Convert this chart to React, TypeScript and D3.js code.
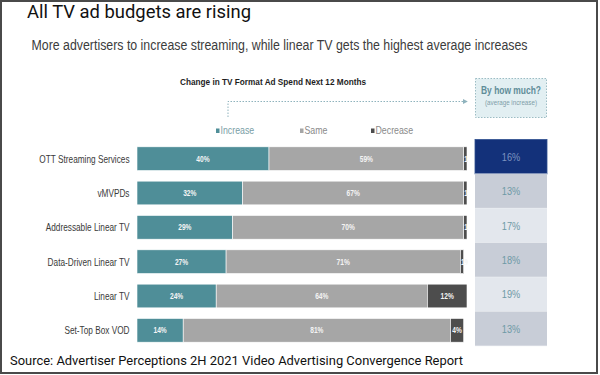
import React from "react";
import * as d3 from "d3";

const categories = [
  "OTT Streaming Services",
  "vMVPDs",
  "Addressable Linear TV",
  "Data-Driven Linear TV",
  "Linear TV",
  "Set-Top Box VOD",
];
const increase = [40, 32, 29, 27, 24, 14];
const same = [59, 67, 70, 71, 64, 81];
const decrease = [1, 1, 1, 1, 12, 4];
const avgIncrease = [16, 13, 17, 18, 19, 13];
const seriesNames = ["Increase", "Same", "Decrease"];

const W = 600;
const H = 375;
const colors = ["#4f8e98", "#a6a6a6", "#4d4d4d"];
const boxFills = ["#13317a", "#c8cdd7", "#e3e7ed", "#c8cdd7", "#e3e7ed", "#c8cdd7"];
const narrow = "'Liberation Sans', Arial, sans-serif";

export default function App() {
  const x = d3.scaleLinear().domain([0, 100]).range([137, 467]);
  const y = d3.scaleBand<string>().domain(categories).range([141.5, 347.5]).paddingInner(0.31).paddingOuter(0.155);
  const yb = d3.scaleBand<string>().domain(categories).range([139.5, 346]).padding(0);

  const rows = categories.map((c, i) => ({ c, vals: [increase[i], same[i], decrease[i]], avg: avgIncrease[i] }));
  const stack = d3.stack<any>().keys(["0", "1", "2"]).value((d: any, k: string) => d.vals[+k]);
  const stacked = stack(rows as any);

  return (
    <svg width={W} height={H} style={{ position: "absolute", left: 0, top: 0, background: "#fff" }}>
      <defs>
        <clipPath id="barclip">
          <rect x={x(0)} y={130} width={x(100) - x(0) + 1} height={230} />
        </clipPath>
        <marker id="arr" viewBox="0 0 6 6" refX="5" refY="3" markerWidth="5" markerHeight="5" orient="auto">
          <path d="M0,0 L6,3 L0,6 Z" fill="#8fb3bd" />
        </marker>
      </defs>
      <rect x={0} y={0} width={W} height={H} fill="#fff" />
      <rect x={1} y={1} width={596} height={372} fill="none" stroke="#4a4a4a" strokeWidth={2} />

      <text x={27} y={17.5} fontFamily="Roboto, sans-serif" fontSize={18.3} fill="#111" textLength={224} lengthAdjust="spacingAndGlyphs">
        All TV ad budgets are rising
      </text>
      <text x={31.5} y={50} fontFamily={narrow} fontSize={14} fill="#3c3c3c" textLength={496} lengthAdjust="spacingAndGlyphs">
        More advertisers to increase streaming, while linear TV gets the highest average increases
      </text>

      <text x={180} y={85} fontFamily={narrow} fontWeight="bold" fontSize={9.5} fill="#1e1e1e" textLength={186} lengthAdjust="spacingAndGlyphs">
        Change in  TV Format Ad Spend Next 12 Months
      </text>

      <path d={`M228,117 L228,101.5 L467,101.5`} fill="none" stroke="#8fb3bd" strokeWidth={1} strokeDasharray="1.5,1.5" markerEnd="url(#arr)" />

      <rect x={475.5} y={78.5} width={71} height={39} fill="#e2eff2" stroke="#9cbcc4" strokeWidth={1} strokeDasharray="1.5,1.5" />
      <text x={511} y={94} textAnchor="middle" fontFamily={narrow} fontWeight="bold" fontSize={10.5} fill="#5f8d99" textLength={60} lengthAdjust="spacingAndGlyphs">
        By how much?
      </text>
      <text x={511} y={104.5} textAnchor="middle" fontFamily={narrow} fontSize={7} fill="#7f9ea8" textLength={52} lengthAdjust="spacingAndGlyphs">
        (average  increase)
      </text>

      {seriesNames.map((s, i) => {
        const lx = [216, 300, 371][i];
        return (
          <g key={s}>
            <rect x={lx} y={128.5} width={3.5} height={4.5} fill={colors[i]} />
            <text transform={`translate(${lx + 4.5},134) scale(0.8,1)`} fontFamily={narrow} fontSize={11} fill={i === 0 ? "#7a9ea6" : "#8a8a8a"}>
              {s}
            </text>
          </g>
        );
      })}

      {categories.map((c) => (
        <text key={c} transform={`translate(129.5,${(y(c) as number) + y.bandwidth() / 2 + 4}) scale(0.75,1)`} textAnchor="end" fontFamily={narrow} fontSize={11} fill="#3a3a3a">
          {c}
        </text>
      ))}

      {stacked.map((layer, li) => (
        <g key={li}>
          {layer.map((seg, ri) => {
            const c = categories[ri];
            const x0 = x(seg[0]);
            const x1 = x(seg[1]);
            return (
              <rect key={c} x={x0} y={y(c)} width={Math.max(0, x1 - x0)} height={y.bandwidth()} fill={colors[li]} stroke="#fff" strokeWidth={0.6} />
            );
          })}
        </g>
      ))}

      <g clipPath="url(#barclip)">
        {stacked.map((layer, li) =>
          layer.map((seg, ri) => {
            const c = categories[ri];
            const v = rows[ri].vals[li];
            const x0 = x(seg[0]);
            const x1 = x(seg[1]);
            const cx = v <= 2 ? x0 + 0.5 : (x0 + x1) / 2;
            const cy = (y(c) as number) + y.bandwidth() / 2 + 3;
            return (
              <text key={`${li}-${c}`} transform={`translate(${cx},${cy}) scale(0.78,1)`} textAnchor={v <= 2 ? "start" : "middle"} fontFamily={narrow} fontWeight="bold" fontSize={8.5} fill="#f4f4f4">
                {v}%
              </text>
            );
          })
        )}
      </g>

      {categories.map((c, i) => (
        <g key={c}>
          <rect x={475} y={yb(c)} width={72} height={yb.bandwidth()} fill={boxFills[i]} stroke={i === 0 ? "#2f4f8f" : "none"} strokeWidth={0.8} />
          <line x1={475} x2={547} y1={(yb(c) as number) + yb.bandwidth()} y2={(yb(c) as number) + yb.bandwidth()} stroke="#f4f5f7" strokeWidth={0.7} />
          <text transform={`translate(511,${(yb(c) as number) + yb.bandwidth() / 2 + 4}) scale(0.8,1)`} textAnchor="middle" fontFamily={narrow} fontSize={11.5} fill={i === 0 ? "#7d93c0" : "#6e9aa6"}>
            {avgIncrease[i]}%
          </text>
        </g>
      ))}

      <text x={10} y={365} fontFamily="Roboto, sans-serif" fontSize={13.5} fill="#111" textLength={453} lengthAdjust="spacingAndGlyphs">
        Source: Advertiser Perceptions 2H 2021 Video Advertising Convergence Report
      </text>
    </svg>
  );
}
